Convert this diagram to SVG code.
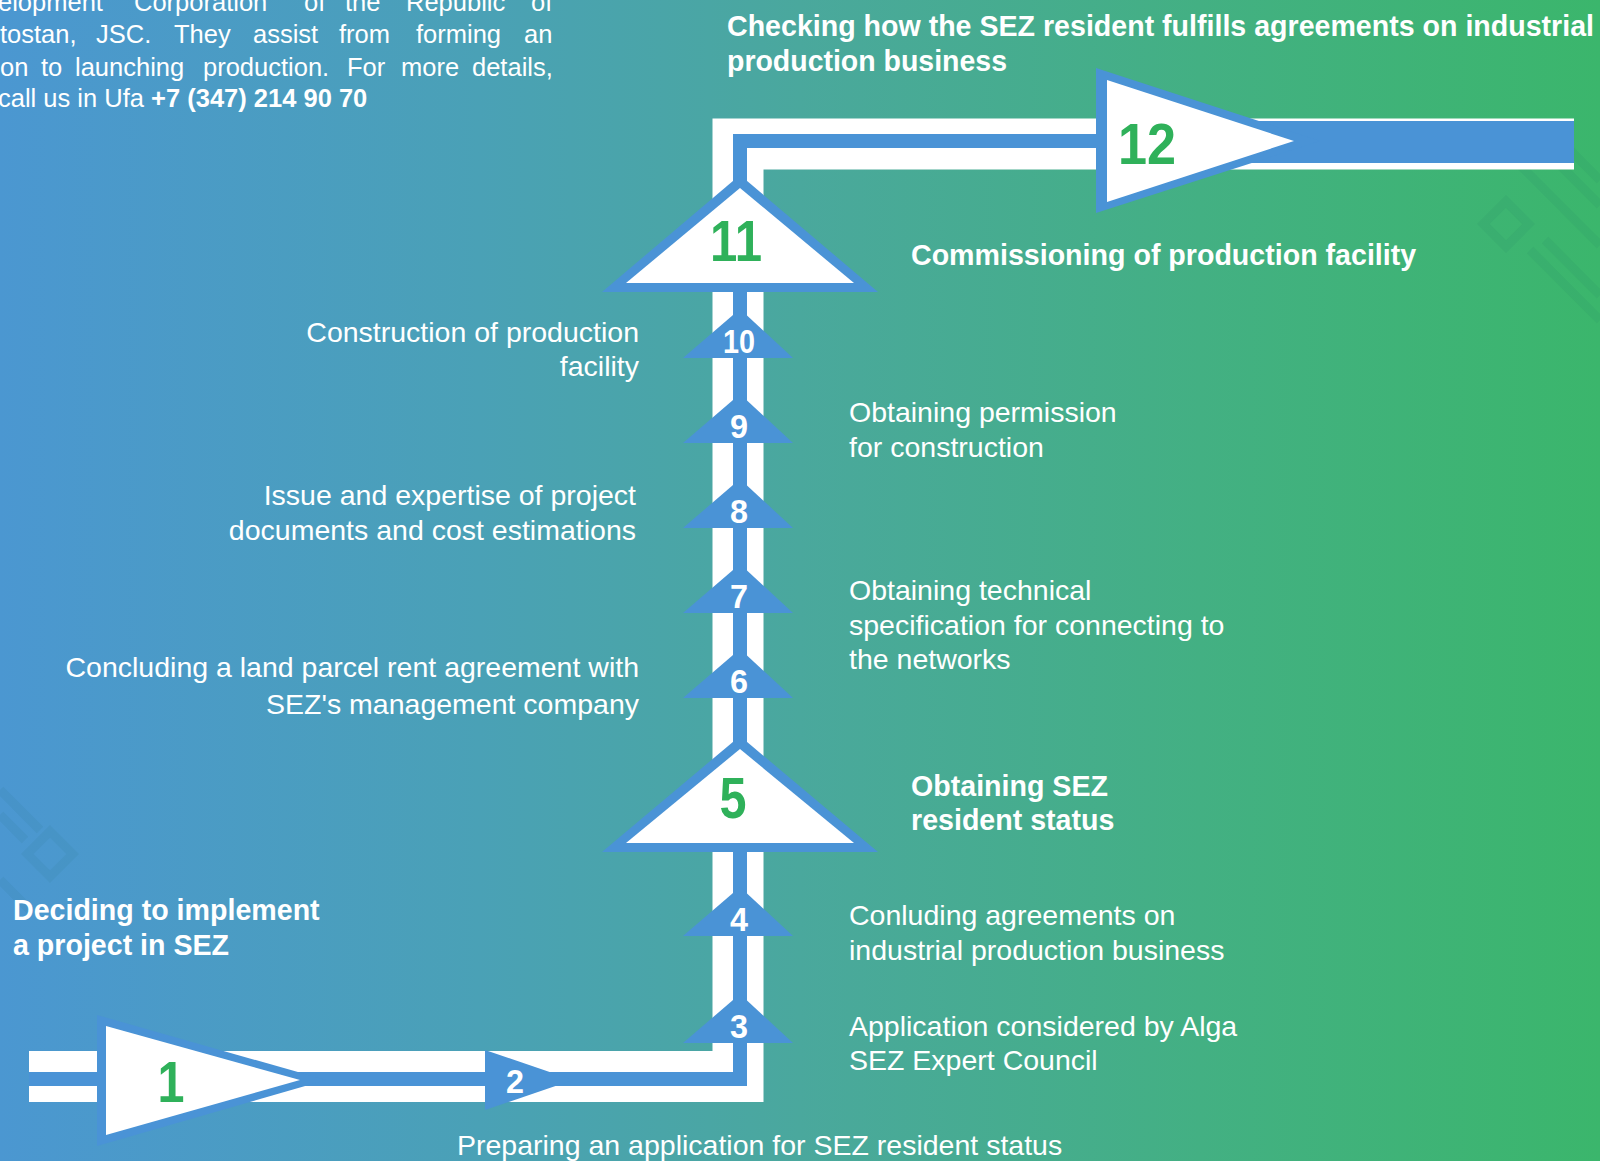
<svg xmlns="http://www.w3.org/2000/svg" width="1600" height="1161" viewBox="0 0 1600 1161">
<defs>
<linearGradient id="bg" x1="0" y1="0" x2="1" y2="0">
<stop offset="0" stop-color="#4b97d1"/>
<stop offset="0.3" stop-color="#4aa1b6"/>
<stop offset="0.5" stop-color="#4aa89d"/>
<stop offset="0.75" stop-color="#43b083"/>
<stop offset="1" stop-color="#3bb66c"/>
</linearGradient>
<style>
.band{fill:none;stroke:#ffffff;stroke-width:51;stroke-linejoin:miter}
.line{fill:none;stroke:#4a93d6;stroke-width:14;stroke-linejoin:miter}
.blue{fill:#4a93d6}
.white{fill:#ffffff}
.t{font-family:"Liberation Sans",Arial,sans-serif;fill:#ffffff;font-size:28.5px}
.p{font-family:"Liberation Sans",Arial,sans-serif;fill:#ffffff;font-size:25.5px}
.b{font-weight:bold;font-size:28.6px}
.h{font-family:"Liberation Sans",Arial,sans-serif;fill:#ffffff;font-weight:bold;font-size:30px}
.e{text-anchor:end}
.num{font-family:"Liberation Sans",Arial,sans-serif;font-weight:bold;fill:#ffffff;font-size:34px;text-anchor:middle}
.gnum{font-family:"Liberation Sans",Arial,sans-serif;font-weight:bold;fill:#2fb15a;font-size:58px;text-anchor:middle}
.orn{fill:none;stroke:#1f5f6a;stroke-width:9;opacity:0.07}
</style>
</defs>
<rect width="1600" height="1161" fill="url(#bg)"/>

<g id="ornaments">
<rect class="orn" x="1490" y="208" width="32" height="32" transform="rotate(45 1506 224)"/>
<path class="orn" d="M1540 145 L1600 205 M1555 135 L1600 180 M1520 165 L1600 245 M1530 250 L1600 320 M1545 240 L1600 295"/>
<rect class="orn" x="34" y="838" width="32" height="32" transform="rotate(45 50 854)"/>
<path class="orn" d="M0 790 L40 830 M0 815 L25 840 M0 880 L30 910"/>
</g>

<g id="connectors">
<path class="band" d="M29 1076.5 H738 V144 H1574"/>
<path class="line" d="M29 1079 H740 V141 H1574"/>
<rect class="blue" x="1250" y="121" width="324" height="42"/>
</g>

<g id="node-1">
<polygon class="blue" points="97,1015 97,1146 326,1080"/>
<polygon class="white" points="106,1026 106,1135 300,1080"/>
<text class="gnum" x="171" y="1102" textLength="27" lengthAdjust="spacingAndGlyphs">1</text>
</g>
<g id="node-2">
<polygon class="blue" points="485,1050 485,1110 573,1080"/>
<text class="num" x="515" y="1093" textLength="18" lengthAdjust="spacingAndGlyphs">2</text>
</g>
<g id="node-3">
<polygon class="blue" points="683,1043 793,1043 740,994"/>
<text class="num" x="739" y="1038" textLength="18" lengthAdjust="spacingAndGlyphs">3</text>
</g>
<g id="node-4">
<polygon class="blue" points="683,936 793,936 740,887"/>
<text class="num" x="739" y="931" textLength="18" lengthAdjust="spacingAndGlyphs">4</text>
</g>
<g id="node-5">
<polygon class="blue" points="740,736 602,852 878,852"/>
<polygon class="white" points="740,749 626,843 854,843"/>
<text class="gnum" x="733" y="818" textLength="27" lengthAdjust="spacingAndGlyphs">5</text>
</g>
<g id="node-6">
<polygon class="blue" points="683,698 793,698 740,649"/>
<text class="num" x="739" y="693" textLength="18" lengthAdjust="spacingAndGlyphs">6</text>
</g>
<g id="node-7">
<polygon class="blue" points="683,613 793,613 740,564"/>
<text class="num" x="739" y="608" textLength="18" lengthAdjust="spacingAndGlyphs">7</text>
</g>
<g id="node-8">
<polygon class="blue" points="683,528 793,528 740,479"/>
<text class="num" x="739" y="523" textLength="18" lengthAdjust="spacingAndGlyphs">8</text>
</g>
<g id="node-9">
<polygon class="blue" points="683,443 793,443 740,394"/>
<text class="num" x="739" y="438" textLength="18" lengthAdjust="spacingAndGlyphs">9</text>
</g>
<g id="node-10">
<polygon class="blue" points="683,358 793,358 740,309"/>
<text class="num" x="739" y="353" textLength="32" lengthAdjust="spacingAndGlyphs">10</text>
</g>
<g id="node-11">
<polygon class="blue" points="740,175 602,292 878,292"/>
<polygon class="white" points="740,188 626,283 854,283"/>
<text class="gnum" x="736" y="261" textLength="52" lengthAdjust="spacingAndGlyphs">11</text>
</g>
<g id="node-12">
<polygon class="blue" points="1096,68 1096,213 1320,141"/>
<polygon class="white" points="1107,80 1107,202 1294,141"/>
<text class="gnum" x="1147" y="164" textLength="58" lengthAdjust="spacingAndGlyphs">12</text>
</g>

<g id="intro">
<text class="p" y="11"><tspan x="-2">elopment</tspan><tspan x="134">Corporation</tspan><tspan x="304">of</tspan><tspan x="345">the</tspan><tspan x="406">Republic</tspan><tspan x="531">of</tspan></text>
<text class="p" y="43"><tspan x="0">tostan,</tspan><tspan x="96">JSC.</tspan><tspan x="174">They</tspan><tspan x="253">assist</tspan><tspan x="339">from</tspan><tspan x="416">forming</tspan><tspan x="524">an</tspan></text>
<text class="p" y="75.5"><tspan x="0">on</tspan><tspan x="41">to</tspan><tspan x="75">launching</tspan><tspan x="203">production.</tspan><tspan x="347">For</tspan><tspan x="401">more</tspan><tspan x="472">details,</tspan></text>
<text class="p" x="-2" y="107">call us in Ufa <tspan font-weight="bold">+7 (347) 214 90 70</tspan></text>
</g>

<g id="labels">
<text class="h" x="727" y="36" textLength="867" lengthAdjust="spacingAndGlyphs">Checking how the SEZ resident fulfills agreements on industrial</text>
<text class="h" x="727" y="71" textLength="280" lengthAdjust="spacingAndGlyphs">production business</text>
<text class="t b" x="911" y="265">Commissioning of production facility</text>
<text class="t e" x="639" y="342">Construction of production</text>
<text class="t e" x="639" y="376">facility</text>
<text class="t" x="849" y="422">Obtaining permission</text>
<text class="t" x="849" y="457">for construction</text>
<text class="t e" x="636" y="505">Issue and expertise of project</text>
<text class="t e" x="636" y="540">documents and cost estimations</text>
<text class="t" x="849" y="600">Obtaining technical</text>
<text class="t" x="849" y="635">specification for connecting to</text>
<text class="t" x="849" y="669">the networks</text>
<text class="t e" x="639" y="677">Concluding a land parcel rent agreement with</text>
<text class="t e" x="639" y="714">SEZ's management company</text>
<text class="t b" x="911" y="796">Obtaining SEZ</text>
<text class="t b" x="911" y="830">resident status</text>
<text class="t b" x="13" y="920">Deciding to implement</text>
<text class="t b" x="13" y="955">a project in SEZ</text>
<text class="t" x="849" y="925">Conluding agreements on</text>
<text class="t" x="849" y="960">industrial production business</text>
<text class="t" x="849" y="1036">Application considered by Alga</text>
<text class="t" x="849" y="1070">SEZ Expert Council</text>
<text class="t" x="457" y="1155">Preparing an application for SEZ resident status</text>
</g>
</svg>
